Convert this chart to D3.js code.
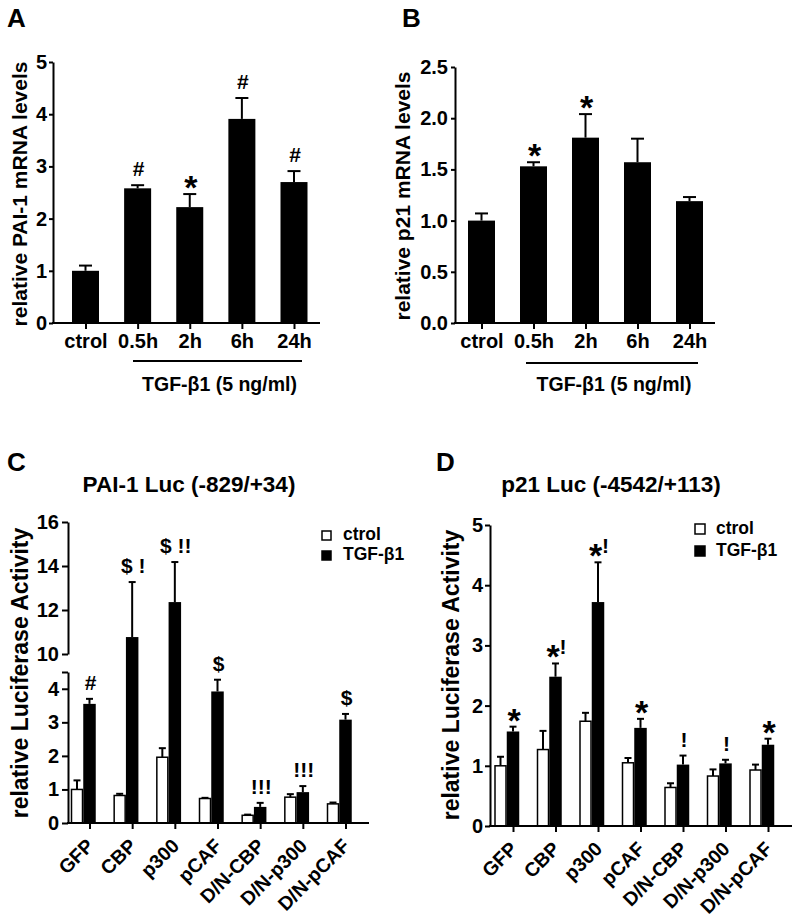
<!DOCTYPE html>
<html><head><meta charset="utf-8">
<script src="https://cdn.jsdelivr.net/npm/d3@7"></script>
<style>
body{margin:0;background:#fff}
text{font-family:"Liberation Sans",Arial,sans-serif;font-weight:bold;fill:#000}
</style>
</head><body>
<svg id="c" width="795" height="923"></svg>
<script>
// ---------- data ----------
const catsA = ["ctrol", "0.5h", "2h", "6h", "24h"];
const valsA = [1.0, 2.58, 2.22, 3.91, 2.70];
const errA  = [0.10, 0.06, 0.25, 0.40, 0.21];
const sigA  = ["", "#", "*", "#", "#"];
const ticksA = [0, 1, 2, 3, 4, 5];

const catsB = ["ctrol", "0.5h", "2h", "6h", "24h"];
const valsB = [1.0, 1.53, 1.81, 1.57, 1.19];
const errB  = [0.07, 0.04, 0.23, 0.23, 0.04];
const sigB  = ["", "*", "*", "", ""];
const ticksB = [0, 0.5, 1.0, 1.5, 2.0, 2.5];

const catsLuc = ["GFP", "CBP", "p300", "pCAF", "D/N-CBP", "D/N-p300", "D/N-pCAF"];
const ctrolC    = [1.0, 0.82, 1.96, 0.73, 0.23, 0.77, 0.57];
const ctrolErrC = [0.27, 0.05, 0.27, 0.02, 0.02, 0.09, 0.04];
const tgfC      = [3.55, 10.77, 12.36, 3.92, 0.48, 0.92, 3.08];
const tgfErrC   = [0.15, 2.50, 1.82, 0.35, 0.12, 0.18, 0.17];
const sigC      = ["#", "$ !", "$ !!", "$", "!!!", "!!!", "$"];
const ticksCLow  = [0, 1, 2, 3, 4, 4.5];
const ticksCHigh = [10, 12, 14, 16];

const ctrolD    = [1.0, 1.27, 1.74, 1.05, 0.64, 0.83, 0.93];
const ctrolErrD = [0.15, 0.31, 0.14, 0.08, 0.07, 0.11, 0.09];
const tgfD      = [1.57, 2.48, 3.72, 1.63, 1.02, 1.04, 1.35];
const tgfErrD   = [0.08, 0.22, 0.66, 0.15, 0.15, 0.06, 0.10];
const sigD      = ["*", "*!", "*!", "*", "!", "!", "*"];
const ticksD = [0, 1, 2, 3, 4, 5];

const legendLabels = ["ctrol", "TGF-β1"];
const treatLabel = "TGF-β1 (5 ng/ml)";

// ---------- helpers ----------
const svg = d3.select("#c");

function annot(g, x, errTopY, label) {
  const t = g.append("text").attr("x", x).attr("y", errTopY - 9)
    .attr("text-anchor", "middle").style("font-size", "21px").style("white-space", "pre");
  let shifted = false;
  for (const ch of label) {
    const ts = t.append("tspan").text(ch);
    if (ch === "*") {
      ts.style("font-size", "34px");
      if (!shifted) { ts.attr("dy", 14); shifted = true; }
    } else if (shifted) { ts.attr("dy", -14); shifted = false; }
  }
}

function errBar(g, x, yTop, yErr, cap) {
  g.append("line").attr("x1", x).attr("x2", x).attr("y1", yTop).attr("y2", yErr)
    .attr("stroke", "#000").attr("stroke-width", 2);
  g.append("line").attr("x1", x - cap / 2).attr("x2", x + cap / 2).attr("y1", yErr).attr("y2", yErr)
    .attr("stroke", "#000").attr("stroke-width", 2);
}

function styleAxis(ax, fs) {
  ax.selectAll("path.domain").attr("stroke-width", 2);
  ax.selectAll(".tick line").attr("stroke-width", 2);
  ax.selectAll("text").style("font-size", fs + "px").attr("font-family", null);
  ax.attr("font-family", null).attr("font-size", null);
}

// ---------- panels A & B ----------
function timePanel(o) {
  const g = svg.append("g");
  const y = d3.scaleLinear().domain([o.ticks[0], o.ticks[o.ticks.length - 1]]).range([323, o.yTop]);
  const x = d3.scalePoint().domain(o.cats).range(o.xr);
  const bw = 27;
  g.selectAll("rect.bar").data(o.vals).join("rect")
    .attr("x", (d, i) => x(o.cats[i]) - bw / 2).attr("width", bw)
    .attr("y", d => y(d)).attr("height", d => y(0) - y(d)).attr("fill", "#000");
  o.vals.forEach((v, i) => {
    errBar(g, x(o.cats[i]), y(v), y(v + o.err[i]), 13);
    if (o.sig[i]) annot(g, x(o.cats[i]) + 1, y(v + o.err[i]), o.sig[i]);
  });
  const ay = g.append("g").attr("transform", `translate(${o.axX},0)`)
    .call(d3.axisLeft(y).tickValues(o.ticks).tickFormat(o.fmt).tickSize(o.tsz).tickSizeOuter(0).tickPadding(o.tpad));
  styleAxis(ay, 20);
  g.append("line").attr("x1", o.axX - 1).attr("x2", o.axEnd).attr("y1", y(0)).attr("y2", y(0))
    .attr("stroke", "#000").attr("stroke-width", 2);
  const ax = g.append("g").attr("transform", `translate(0,${y(0)})`)
    .call(d3.axisBottom(x).tickSize(6).tickSizeOuter(0).tickPadding(5));
  ax.select("path.domain").remove();
  styleAxis(ax, 20);
  g.append("line").attr("x1", o.line[0]).attr("x2", o.line[1]).attr("y1", o.lineY).attr("y2", o.lineY)
    .attr("stroke", "#000").attr("stroke-width", 2);
  g.append("text").attr("x", (o.line[0] + o.line[1]) / 2 + 2).attr("y", 391)
    .attr("text-anchor", "middle").style("font-size", "19.5px").text(treatLabel);
  g.append("text").attr("transform", `translate(${o.titleX},${o.titleY}) rotate(-90)`)
    .attr("text-anchor", "middle").style("font-size", "21px").text(o.ytitle);
  g.append("text").attr("x", o.letterX).attr("y", 27).style("font-size", "26px").text(o.letter);
}

timePanel({cats: catsA, vals: valsA, err: errA, sig: sigA, ticks: ticksA, fmt: d3.format("d"),
  yTop: 62, xr: [85.5, 294], axX: 53, axEnd: 320, tsz: 4, tpad: 2,
  line: [133, 302], lineY: 361, titleX: 27, titleY: 194,
  ytitle: "relative PAI-1 mRNA levels", letter: "A", letterX: 7});
timePanel({cats: catsB, vals: valsB, err: errB, sig: sigB, ticks: ticksB, fmt: d3.format(".1f"),
  yTop: 67, xr: [481.5, 689.5], axX: 455, axEnd: 715, tsz: 4, tpad: 3,
  line: [526, 698], lineY: 363, titleX: 410, titleY: 196,
  ytitle: "relative p21 mRNA levels", letter: "B", letterX: 402});

// ---------- panels C & D ----------
function lucPanel(o) {
  const g = svg.append("g");
  const yv = o.yv;
  const x = d3.scalePoint().domain(catsLuc).range(o.xr);
  const bw = 12.5;
  g.selectAll("rect.c").data(o.ctrl).join("rect").attr("class", "c")
    .attr("x", (d, i) => x(catsLuc[i]) - 1.5 * bw + 0.75).attr("width", bw - 1.5)
    .attr("y", d => yv(d)).attr("height", d => yv(0) - yv(d))
    .attr("fill", "#fff").attr("stroke", "#000").attr("stroke-width", 1.5);
  g.selectAll("rect.t").data(o.tgf).join("rect").attr("class", "t")
    .attr("x", (d, i) => x(catsLuc[i]) - 0.5 * bw).attr("width", bw)
    .attr("y", d => yv(d)).attr("height", d => yv(0) - yv(d)).attr("fill", "#000");
  catsLuc.forEach((c, i) => {
    errBar(g, x(c) - bw, yv(o.ctrl[i]), yv(o.ctrl[i] + o.ctrlErr[i]), 7);
    errBar(g, x(c), yv(o.tgf[i]), yv(o.tgf[i] + o.tgfErr[i]), 7);
    annot(g, x(c) + 1, yv(o.tgf[i] + o.tgfErr[i]), o.sig[i]);
  });
  o.yAxes.forEach(a => {
    const ay = g.append("g").attr("transform", `translate(${o.axX},0)`)
      .call(d3.axisLeft(a.scale).tickValues(a.ticks).tickFormat(d => a.labels.includes(d) ? d : "")
        .tickSize(o.tsz).tickSizeOuter(0).tickPadding(o.tpad));
    styleAxis(ay, 20);
  });
  g.append("line").attr("x1", o.axX - 1).attr("x2", o.axEnd).attr("y1", yv(0)).attr("y2", yv(0))
    .attr("stroke", "#000").attr("stroke-width", 2);
  const ax = g.append("g").attr("transform", `translate(0,${yv(0)})`)
    .call(d3.axisBottom(x).tickSize(6).tickSizeOuter(0));
  ax.select("path.domain").remove();
  styleAxis(ax, 19.5);
  ax.selectAll("text").attr("x", 0).attr("y", 0).attr("dy", 0)
    .attr("text-anchor", "end").attr("transform", "translate(5,24) rotate(-45)");
  g.append("text").attr("x", o.titleCX).attr("y", 492).attr("text-anchor", "middle")
    .style("font-size", "22.5px").text(o.title);
  g.append("text").attr("transform", `translate(${o.ytX},${o.ytY}) rotate(-90)`)
    .attr("text-anchor", "middle").style("font-size", "23px").text("relative Luciferase Activity");
  legendLabels.forEach((l, i) => {
    g.append("rect").attr("x", o.leg[0]).attr("y", o.leg[1] + i * o.legStep).attr("width", o.legSz).attr("height", o.legSz)
      .attr("fill", i === 0 ? "#fff" : "#000").attr("stroke", "#000").attr("stroke-width", 1.5);
    g.append("text").attr("x", o.leg[0] + 21).attr("y", o.leg[1] + i * o.legStep + o.legSz)
      .style("font-size", "17.5px").text(l);
  });
  g.append("text").attr("x", o.letterX).attr("y", 471).style("font-size", "26px").text(o.letter);
}

const yCLow = d3.scaleLinear().domain([0, 4.5]).range([823, 672]);
const yCHigh = d3.scaleLinear().domain([10, 16]).range([654, 522]);
const yC = v => v <= 4.5 ? yCLow(v) : yCHigh(v);
lucPanel({yv: yC, ctrl: ctrolC, ctrlErr: ctrolErrC, tgf: tgfC, tgfErr: tgfErrC, sig: sigC,
  xr: [89.5, 345.5], axX: 68, axEnd: 369, tsz: 6, tpad: 3,
  yAxes: [{scale: yCLow, ticks: ticksCLow, labels: [0, 1, 2, 3, 4]},
          {scale: yCHigh, ticks: ticksCHigh, labels: ticksCHigh}],
  title: "PAI-1 Luc (-829/+34)", titleCX: 189, ytX: 28, ytY: 673,
  leg: [322, 531], legStep: 20, legSz: 9, letter: "C", letterX: 7});

const yD = d3.scaleLinear().domain([0, 5]).range([826, 525]);
lucPanel({yv: yD, ctrl: ctrolD, ctrlErr: ctrolErrD, tgf: tgfD, tgfErr: tgfErrD, sig: sigD,
  xr: [513, 768], axX: 490, axEnd: 792, tsz: 5, tpad: 2,
  yAxes: [{scale: yD, ticks: ticksD, labels: ticksD}],
  title: "p21 Luc (-4542/+113)", titleCX: 611, ytX: 459, ytY: 675,
  leg: [695, 524], legStep: 22, legSz: 10, letter: "D", letterX: 436});
</script>
</body></html>
